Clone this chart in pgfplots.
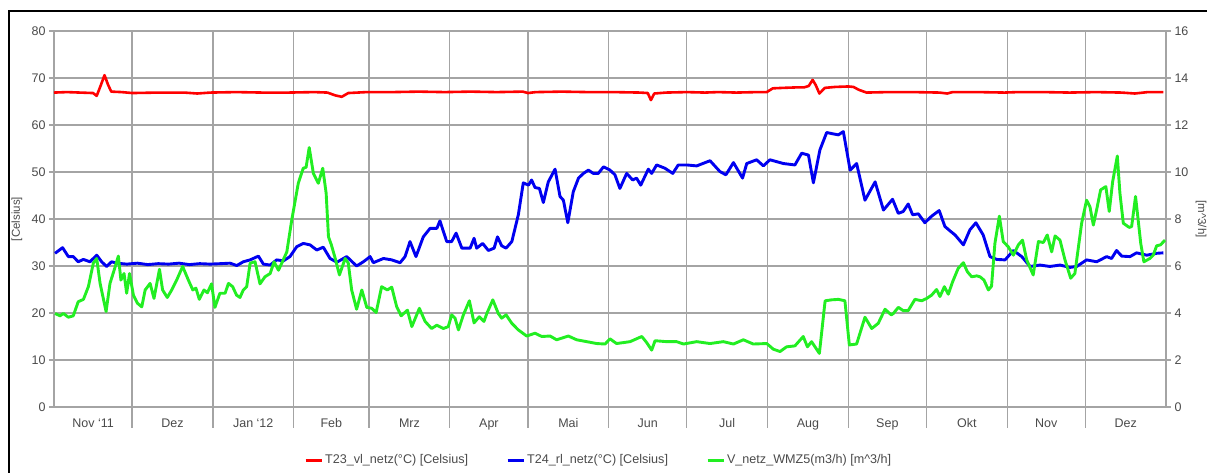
\documentclass[border=0pt]{standalone}
\usepackage{pgfplots}
\usepackage{pgfplotstable}
\pgfplotsset{compat=1.18}
\usepackage{fontspec}
\setmainfont{Liberation Sans}

\definecolor{gridgray}{HTML}{A4A4A4}
\definecolor{labelgray}{HTML}{4A4A4A}
\definecolor{tred}{HTML}{FF0000}
\definecolor{tblue}{HTML}{0000F0}
\definecolor{vgreen}{HTML}{22EE22}

% x = days since 1 Nov 2011
\pgfplotstableread{
day  t
0    66.9
5    67.0
10   66.9
15   66.8
16.4 66.2
18   68.5
19.4 70.6
20.8 68.5
22   67.1
26   67.0
30   66.8
40   66.9
50   66.9
55   66.7
60   66.9
70   67.0
80   66.9
90   66.9
100  67.0
105  66.9
108  66.3
110.5 66.0
113  66.8
120  67.0
130  67.0
140  67.1
150  67.0
160  67.1
170  67.0
180  67.1
182  66.8
185  67.0
195  67.1
205  67.0
215  67.0
225  66.9
228  66.8
229.2 65.3
230.5 66.7
235  66.9
243  67.0
250  66.9
255  67.0
262  66.9
270  67.0
273.7 67.0
276  67.8
280  67.9
285  68.0
288  68.0
289.8 68.3
291.3 69.6
292.5 68.5
293.9 66.7
296  67.9
300  68.1
305  68.2
307  68.1
309  67.5
312  66.9
320  67.0
330  67.0
340  66.9
343  66.7
345  67.0
355  67.0
365  66.9
370  67.0
380  67.0
390  66.9
400  67.0
410  66.9
415  66.7
420  67.0
426  67.0
}\vltable

\pgfplotstableread{
day  t
0.4  32.7
3.3  33.9
5.5  32.0
7.4  32.0
9.3  30.9
11.3 31.4
13.8 30.9
16.4 32.3
18.3 30.9
20.2 29.9
22.1 30.9
24.1 30.6
28   30.4
32   30.6
36   30.3
40   30.5
44   30.4
48   30.6
52   30.3
56   30.5
60   30.4
64   30.5
67.6 30.6
70.2 30.1
72.7 30.9
75.3 31.3
78.5 32.1
80.4 30.4
83.0 30.2
85.5 31.3
88.1 31.1
90.6 32.0
93.2 34.1
95.7 34.8
98.3 34.5
100.9 33.4
103.4 34.0
106.0 31.6
108.6 30.8
112.4 32.0
116.2 30.0
118.8 30.9
121.4 32.0
122.6 30.7
126.5 31.6
129.7 31.3
132.9 30.7
134.8 32.0
136.7 35.2
139.0 32.0
141.8 36.2
144.4 38.0
147.0 38.0
148.2 39.6
150.8 35.2
152.7 35.2
154.4 37.0
156.6 33.8
159.8 33.8
161.3 35.9
162.3 33.8
164.6 34.8
166.8 33.3
169.0 33.8
170.3 36.2
171.9 34.3
173.6 33.8
175.8 35.2
178.3 40.9
180.2 47.7
182.2 47.2
183.4 48.3
184.7 46.7
186.4 46.5
187.9 43.5
189.8 47.9
192.4 50.6
194.3 44.8
195.6 44.0
197.3 39.2
199.4 45.8
201.4 48.7
203.3 49.7
205.2 50.4
207.1 49.7
209.0 49.7
211.0 51.1
213.5 50.4
215.4 49.4
217.3 46.5
219.9 49.7
222.2 48.3
223.7 48.7
225.3 47.2
228.2 50.6
229.5 49.7
231.4 51.5
234.6 50.8
237.6 49.7
239.7 51.5
242.9 51.5
246.8 51.3
251.9 52.4
255.7 50.1
258.0 49.4
260.9 52.0
264.4 48.7
266.0 51.8
269.8 52.6
272.4 51.3
274.9 52.6
280.1 51.8
284.5 51.5
287.1 54.0
289.7 53.6
291.6 47.7
294.1 54.7
296.7 58.4
299.3 58.1
301.2 57.9
303.1 58.6
305.7 50.4
308.2 51.8
311.4 44.0
315.3 47.9
318.5 41.9
322.0 44.2
324.2 41.2
326.1 41.6
328.0 43.2
329.7 40.9
331.9 41.1
334.4 39.2
337.0 40.6
339.9 41.8
342.1 38.4
344.0 37.5
346.0 36.6
349.2 34.5
351.7 37.7
354.0 39.2
356.8 36.6
359.4 32.0
362.0 31.4
365.2 31.3
368.4 33.3
371.6 32.0
374.8 29.9
378.6 30.2
382.4 29.9
386.3 30.2
390.1 29.7
392.7 29.9
396.5 31.3
400.4 30.9
404.2 32.0
406.1 31.6
408.0 33.3
410.0 32.1
413.2 32.0
415.7 32.8
419.6 32.3
423.4 32.7
426.0 32.8
}\rltable

\pgfplotstableread{
day  v
0.4  3.98
2.3  3.88
3.6  3.98
5.5  3.82
7.4  3.88
9.3  4.48
11.3 4.58
13.2 5.12
15.1 6.12
16.4 6.32
17.7 5.26
20.0 4.06
21.5 5.26
23.2 5.86
24.7 6.42
25.7 5.40
26.9 5.68
27.9 4.84
29.0 5.68
30.5 4.76
32.0 4.42
33.7 4.26
35.0 4.98
36.9 5.26
38.4 4.62
40.5 5.86
41.7 4.98
43.5 4.66
45.2 4.98
47.1 5.40
49.4 5.98
51.6 5.40
53.3 4.98
54.5 5.06
55.8 4.58
57.6 4.98
58.9 4.86
60.5 5.24
61.8 4.24
63.7 4.84
65.7 4.84
67.0 5.26
68.6 5.12
70.1 4.76
71.4 4.66
72.7 4.98
74.0 5.12
75.3 6.12
77.2 6.18
79.1 5.24
81.0 5.54
83.0 5.68
84.5 6.18
86.2 5.82
87.7 6.18
89.4 6.60
91.3 7.96
93.8 9.52
95.7 10.16
96.8 10.20
98.0 11.04
99.6 9.94
101.5 9.52
103.2 10.16
104.5 9.10
105.4 7.24
106.5 6.90
108.0 6.32
109.6 5.62
111.8 6.32
113.0 6.12
114.3 4.98
116.2 4.16
118.2 4.98
120.1 4.24
122.0 4.20
123.7 4.02
125.8 5.12
128.0 4.98
129.7 5.10
131.6 4.26
133.3 3.88
135.7 4.12
137.4 3.42
140.3 4.20
142.5 3.64
145.0 3.34
147.0 3.48
149.5 3.34
151.4 3.42
152.7 3.92
154.0 3.78
155.3 3.28
157.2 3.92
159.5 4.52
161.3 3.58
163.3 3.84
165.1 3.64
166.2 3.98
168.5 4.56
170.6 3.98
171.9 3.78
173.6 3.92
175.8 3.56
178.3 3.28
181.5 3.02
184.7 3.14
187.3 3.00
190.5 3.02
193.0 2.86
197.5 3.02
200.7 2.86
204.6 2.78
208.4 2.70
211.6 2.68
213.5 2.90
216.0 2.70
221.2 2.78
225.7 3.00
227.6 2.74
229.5 2.42
230.8 2.82
235.3 2.78
239.1 2.78
241.7 2.68
246.8 2.78
251.9 2.70
257.0 2.78
260.9 2.68
264.7 2.86
268.5 2.68
273.7 2.70
276.2 2.46
278.8 2.36
281.3 2.56
284.5 2.60
287.7 3.00
289.3 2.56
290.9 2.78
293.9 2.28
296.1 4.52
298.6 4.56
301.2 4.58
303.7 4.52
305.4 2.64
308.2 2.68
311.4 3.82
314.0 3.34
316.5 3.56
319.1 4.16
321.5 3.92
322.3 3.98
324.2 4.24
326.1 4.10
328.0 4.10
330.6 4.58
333.2 4.52
335.1 4.62
337.0 4.76
338.9 5.00
340.2 4.70
341.9 5.12
343.4 4.80
345.1 5.34
347.2 5.90
349.2 6.14
350.7 5.76
352.4 5.54
354.3 5.58
355.6 5.54
357.1 5.40
358.8 4.98
360.0 5.14
361.3 6.96
363.0 8.12
364.5 7.04
366.4 6.82
368.4 6.46
370.3 6.90
371.9 7.10
373.5 6.26
376.0 5.62
378.0 7.04
379.9 7.00
381.4 7.32
383.1 6.60
384.4 7.28
386.3 7.10
388.2 6.26
390.4 5.48
392.0 5.68
394.6 7.82
396.5 8.80
397.8 8.52
399.1 7.74
400.6 8.52
401.9 9.24
403.9 9.38
405.2 8.32
406.5 9.58
408.3 10.68
409.3 9.10
410.6 7.82
412.9 7.64
413.8 7.68
415.3 8.96
417.3 6.96
418.5 6.18
420.8 6.32
422.1 6.46
423.4 6.86
424.9 6.90
426.6 7.10
}\flowtable

\pgfplotsset{
  commonaxis/.style={
    at={(54pt,66pt)}, anchor=south west,
    scale only axis, width=1112pt, height=376pt,
    xmin=0, xmax=427,
    tick align=outside,
    major tick length=5pt,
    every tick/.style={gridgray, line width=1.3pt},
    /pgf/number format/assume math mode=true,
    tick label style={font=\fontsize{12.5}{14}\selectfont, text=labelgray},
  },
}

\begin{document}
\begin{tikzpicture}[x=1pt,y=1pt]
\useasboundingbox (0,0) rectangle (1207,473);
\draw[black, line width=2.4pt] (9.2,-10) -- (9.2,461.8) -- (1220,461.8);

\begin{axis}[
  commonaxis,
  ymin=0, ymax=80,
  ytick={0,10,...,80},
  ytick pos=left,
  axis line style={gridgray, line width=1.3pt},
  ymajorgrids,
  major grid style={gridgray, line width=1.3pt},
  % month names centred in their month
  xtick={15,45.5,76.5,106.5,136.5,167,197.5,228,258.5,289.5,320,350.5,381,411.5},
  xticklabels={Nov `11,Dez,Jan `12,Feb,Mrz,Apr,Mai,Jun,Jul,Aug,Sep,Okt,Nov,Dez},
  xtick style={draw=none},
  xticklabel style={yshift=-3pt},
  % month boundaries
  extra x ticks={30,61,92,121,152,182,213,243,274,305,335,366,396},
  extra x tick labels={},
  extra x tick style={grid=major, xtick style={draw=none}},
  clip=false,
  ylabel={[Celsius]},
  ylabel style={font=\fontsize{11.5}{13}\selectfont, text=labelgray,
    at={(axis description cs:-0.0333,0.5)}, anchor=center},
  legend style={at={(0.2248,-0.141)}, anchor=west, draw=none, fill=none,
    font=\fontsize{12.6}{14}\selectfont, text=labelgray, inner sep=0pt,
    nodes={inner sep=2pt},
    /tikz/every even column/.append style={column sep=36pt}},
  legend columns=3,
  legend image code/.code={\draw[#1, line width=3pt] (0pt,0pt) -- (16pt,0pt);},
]
\pgfplotsinvokeforeach{30,61,92,121,152,182,213,243,274,305,335,366,396}{
  \draw[gridgray, line width=1.3pt] (axis cs:#1,0) -- ++(0pt,-21pt);
}
\addplot[tred, line width=2.6pt, line join=round] table[x=day, y=t] {\vltable};
\addlegendentry{T23\_vl\_netz(°C) [Celsius]}
\addplot[tblue, line width=2.9pt, line join=round] table[x=day, y=t] {\rltable};
\addlegendentry{T24\_rl\_netz(°C) [Celsius]}
\addlegendimage{vgreen, line width=3pt}
\addlegendentry{V\_netz\_WMZ5(m3/h) [m\textasciicircum3/h]}
\end{axis}

\begin{axis}[
  commonaxis,
  ymin=0, ymax=16,
  ytick={0,2,...,16},
  axis y line*=right,
  axis x line=none,
  axis line style={gridgray, line width=1.3pt},
  clip=false,
  ylabel={[m\textasciicircum3/h]},
  ylabel style={font=\fontsize{11.5}{13}\selectfont, text=labelgray,
    at={(axis description cs:1.0315,0.5)}, anchor=center, rotate=180},
]
\addplot[vgreen, line width=2.9pt, line join=round] table[x=day, y=v] {\flowtable};
\end{axis}
\end{tikzpicture}
\end{document}
